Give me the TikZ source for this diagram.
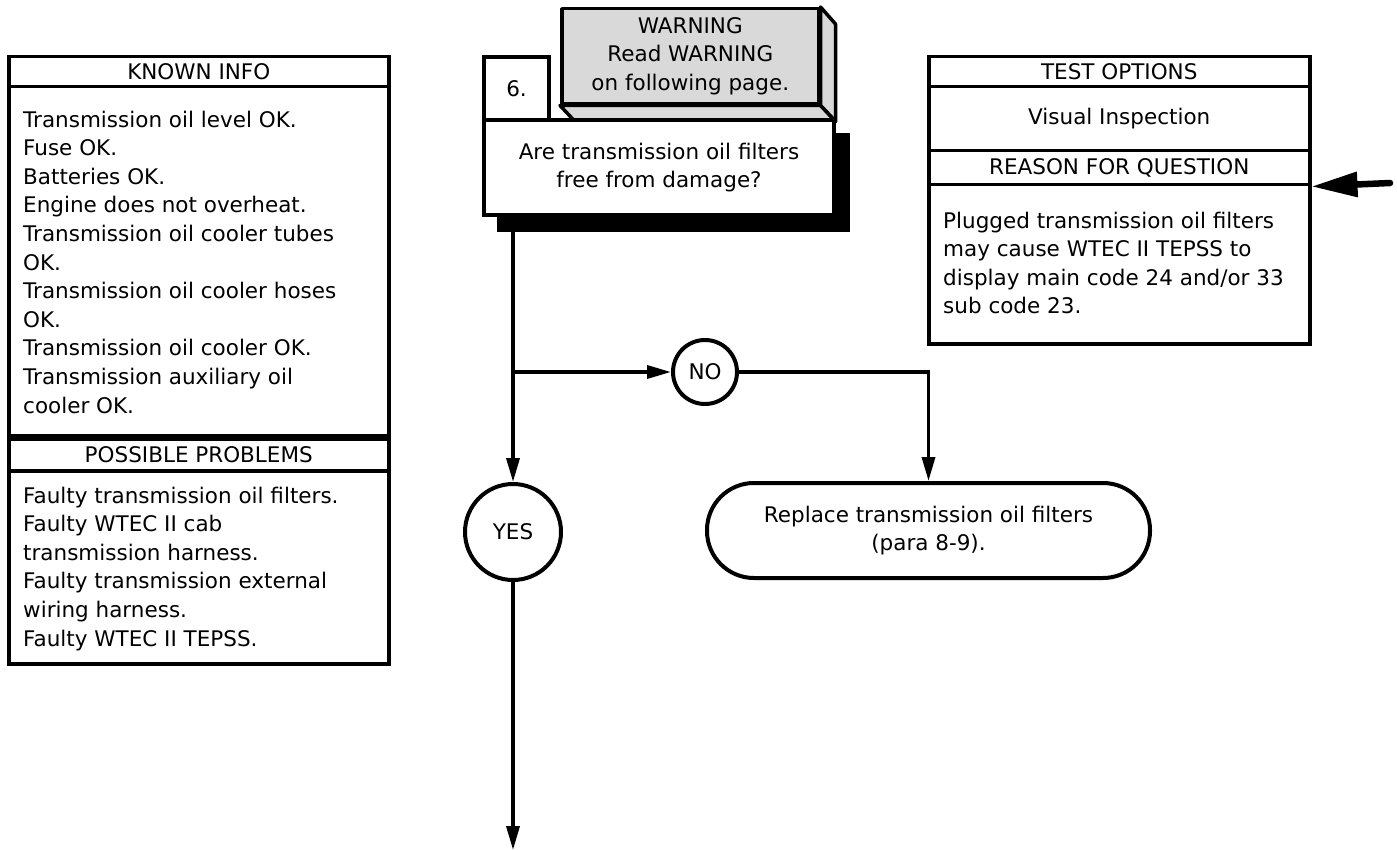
\documentclass[tikz,border=0pt]{standalone}
\usepackage{fontspec}
\setmainfont{DejaVu Sans}
\usetikzlibrary{arrows.meta,calc}
\begin{document}
\begin{tikzpicture}[x=1pt,y=-1pt,
  every node/.style={font=\fontsize{21.5}{28.6}\selectfont},
  frame/.style={draw, line width=3.5pt, fill=white, inner sep=0pt, anchor=north west},
  txt/.style={align=left, inner sep=0pt, anchor=north west},
  warnface/.style={draw, line width=3.5pt, fill=black!15, line join=round},
  ring/.style={circle, draw, line width=4pt, fill=white, inner sep=0pt},
  flow/.style={line width=3.5pt, -{Triangle[length=24pt,width=13pt]}},
  bigflow/.style={line width=6.5pt, line cap=round, -{Triangle[length=46pt,width=24pt]}}]
\fill[white] (0,0) rectangle (1397,850);
\useasboundingbox (0,0) rectangle (1397,850);

% known info / possible problems panel
\node[frame, minimum width=380pt, minimum height=352pt] (knownbox) at (7,85) {};
\node[frame, minimum width=380pt, minimum height=30pt] (knownhdr) at (7,55) {KNOWN INFO};
\node[frame, minimum width=380pt, minimum height=193pt] (probbox) at (7,469) {};
\node[frame, minimum width=380pt, minimum height=32pt] (probhdr) at (7,437) {POSSIBLE PROBLEMS};
\draw[line width=6pt] (probhdr.north west) -- (probhdr.north east);
\node[txt] (knowntxt) at (23,110.5) {Transmission oil level OK.\\Fuse OK.\\Batteries OK.\\Engine does not overheat.\\Transmission oil cooler tubes\\OK.\\Transmission oil cooler hoses\\OK.\\Transmission oil cooler OK.\\Transmission auxiliary oil\\cooler OK.};
\node[txt] (probtxt) at (23,486.5) {Faulty transmission oil filters.\\Faulty WTEC II cab\\transmission harness.\\Faulty transmission external\\wiring harness.\\Faulty WTEC II TEPSS.};

% test options / reason for question panel
\node[frame, minimum width=381pt, minimum height=30pt] (testhdr) at (927,55) {TEST OPTIONS};
\node[frame, minimum width=381pt, minimum height=64pt] (testbox) at (927,85) {Visual Inspection};
\node[frame, minimum width=381pt, minimum height=34pt] (reasonhdr) at (927,149) {REASON FOR QUESTION};
\node[frame, minimum width=381pt, minimum height=159pt] (reasonbox) at (927,183) {};
\node[txt] (reasontxt) at (943,211.5) {Plugged transmission oil filters\\may cause WTEC II TEPSS to\\display main code 24 and/or 33\\sub code 23.};

% warning block with its depth faces
\node[warnface, anchor=north west, minimum width=257pt, minimum height=95pt, inner sep=0pt, align=center] (warn) at (560,7) {WARNING\\Read WARNING\\on following page.};
\filldraw[warnface] (warn.north east) -- ++(15,17) -- ($(warn.south east)+(15,16)$) -- (warn.south east) -- cycle;
\filldraw[warnface] (warn.south west) -- (warn.south east) -- ++(15,16) -- ($(warn.south west)+(15,16)$) -- cycle;

% question step
\node[fill=black, inner sep=0pt, minimum width=353pt, minimum height=99pt, anchor=north west] (shadow) at (497,133) {};
\node[frame, line width=4pt, minimum width=65pt, minimum height=63pt] (stepno) at (482,55) {6.};
\node[frame, line width=4pt, minimum width=350pt, minimum height=95pt, align=center] (question) at (482,118) {Are transmission oil filters\\free from damage?};

% decisions and action
\node[ring, minimum size=64pt] (no) at (705,372) {NO};
\node[ring, minimum size=96pt] (yes) at (513,532) {YES};
\node[draw, line width=4pt, rounded corners=47pt, minimum width=443pt, minimum height=95pt, align=center] (replace) at (928.5,530.5) {Replace transmission oil filters\\(para 8-9).};

% connectors
\coordinate (branch) at (yes.north |- no.west);
\coordinate (exit) at (513,850);
\coordinate (reasonin) at (1390,183);
\draw[flow] (shadow.south -| yes.north) -- (yes.north);
\draw[flow] (branch) -- (no.west);
\draw[flow] (no.east) -| (replace.north);
\draw[flow] (yes.south) -- (exit);
\draw[bigflow] (reasonin) -- (reasonhdr.south east);
\end{tikzpicture}
\end{document}
